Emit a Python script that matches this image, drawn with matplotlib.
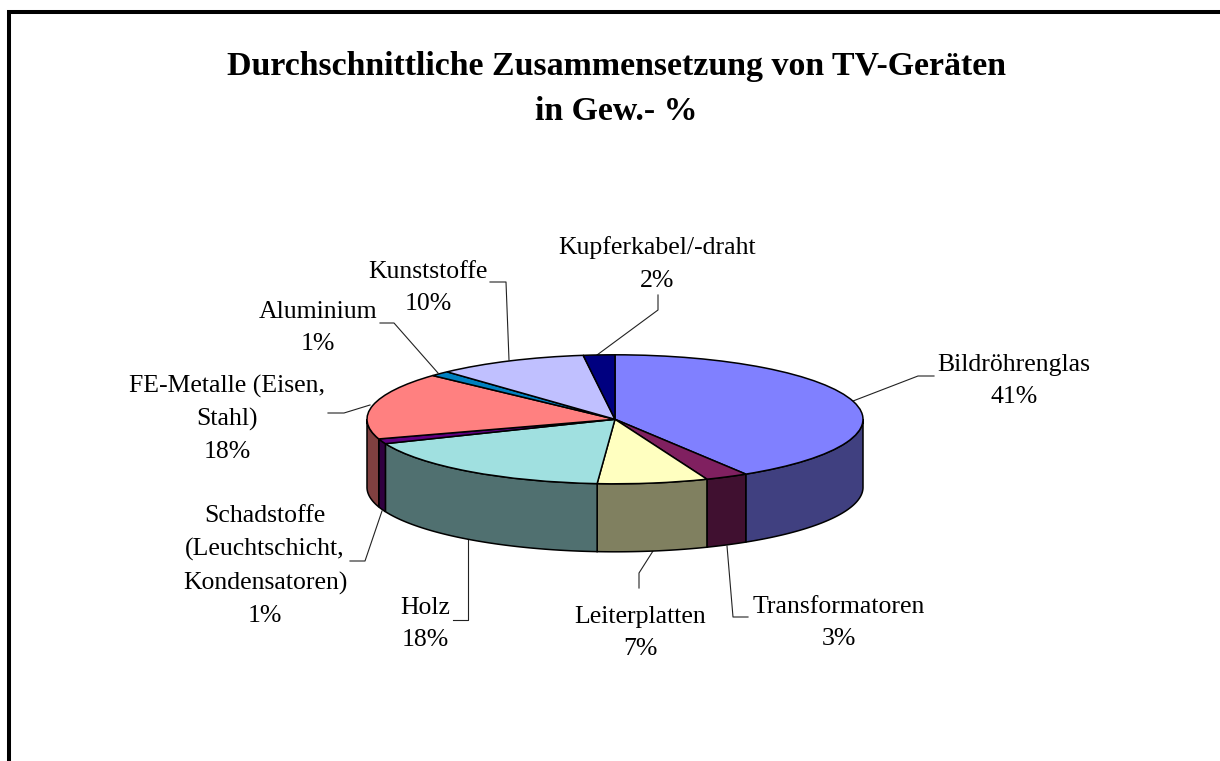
""" Durchschnittliche Zusammensetzung von TV-Geräten, 3D-Kuchen """

import matplotlib
matplotlib.use('Agg')
import matplotlib.pyplot as plt
import numpy as np

plt.rcParams['font.family'] = ['Liberation Serif', 'DejaVu Serif']

names = ['Bildröhrenglas', 'Transformatoren', 'Leiterplatten', 'Holz',
         'Schadstoffe\n(Leuchtschicht,\nKondensatoren)', 'FE-Metalle (Eisen,\nStahl)',
         'Aluminium', 'Kunststoffe', 'Kupferkabel/-draht']
# Anteile wie im Bild gezeichnet
shares = [41.2, 2.8, 7.2, 17.7, 1.25, 16.8, 1.3, 9.8, 2.05]
percents = ['41%', '3%', '7%', '18%', '1%', '18%', '1%', '10%', '2%']
top_colors = ['#8080FF', '#802060', '#FFFFC0', '#A0E0E0', '#600080',
              '#FF8080', '#0080C0', '#C0C0FF', '#000080']
side_colors = ['#404080', '#401030', '#808060', '#507070', '#300040',
               '#804040', '#006080', '#606080', '#000040']

W, H = 1220, 761
CX, CY, RX, RY, DEPTH = 615, 419.3, 248, 64.5, 68


def dx(px):
    return (px - CX) / RX


def dy(py):
    return (CY - py) / RY


fig = plt.figure(figsize=(W / 100, H / 100), dpi=100)
ax = fig.add_axes([0, 0, 1, 1])

# Rahmen (rechts und unten abgeschnitten)
ax.plot([dx(9), dx(9), dx(W + 5)], [dy(H + 5), dy(12.5), dy(12.5)], color='black', lw=2.9,
        solid_joinstyle='miter')

# Seitenwand
depth = DEPTH / RY
edges = np.cumsum([0] + shares) / sum(shares) * 360
for a, b, col in zip(edges[:-1], edges[1:], side_colors):
    a, b = max(a, 90), min(b, 270)
    if a >= b:
        continue
    t = np.radians(np.linspace(a, b, 80))
    xs = np.sin(t)
    ys = np.cos(t)
    ax.fill(np.r_[xs, xs[::-1]], np.r_[ys, ys[::-1] - depth], facecolor=col,
            edgecolor='black', lw=1.1, zorder=2)

# Deckel
wedges, _ = ax.pie(shares, colors=top_colors, startangle=90, counterclock=False, radius=1,
                   wedgeprops={'edgecolor': 'black', 'linewidth': 1.1, 'zorder': 3})
ax.set_aspect('auto')
ax.set_xlim(dx(0), dx(W))
ax.set_ylim(dy(H), dy(0))
ax.axis('off')

# Titel
ax.text(dx(616.5), dy(66), 'Durchschnittliche Zusammensetzung von TV-Geräten',
        fontsize=24.4, fontweight='bold', ha='center', va='center')
ax.text(dx(616.5), dy(112), 'in Gew.- %', fontsize=24.4, fontweight='bold', ha='center', va='center')

# Beschriftung: Mitte des Textblocks in Pixeln
label_pos = [(1014, 381), (839, 623), (640, 633), (425, 624), (265, 566),
             (227, 419), (318, 328), (428, 288), (657, 264)]
for name, pct, (px, py) in zip(names, percents, label_pos):
    ax.text(dx(px), dy(py), name + '\n' + pct, fontsize=18.5, ha='center', va='center',
            linespacing=1.6)

# Führungslinien
leaders = [[(853, 401), (918, 376), (934, 376)],
           [(727, 546), (733, 617), (748, 617)],
           [(653, 551), (639, 573), (639, 588)],
           [(468, 539), (468, 620), (453, 620)],
           [(382, 511), (365, 561), (350, 561)],
           [(370, 405), (344, 413), (328, 413)],
           [(438, 373), (394, 323), (380, 323)],
           [(509, 360), (506, 282), (490, 282)],
           [(597, 355), (658, 310), (658, 295)]]
for line in leaders:
    ax.plot([dx(p[0]) for p in line], [dy(p[1]) for p in line], color='#222222', lw=0.8, zorder=1)

fig.savefig('out.png', dpi=100)
